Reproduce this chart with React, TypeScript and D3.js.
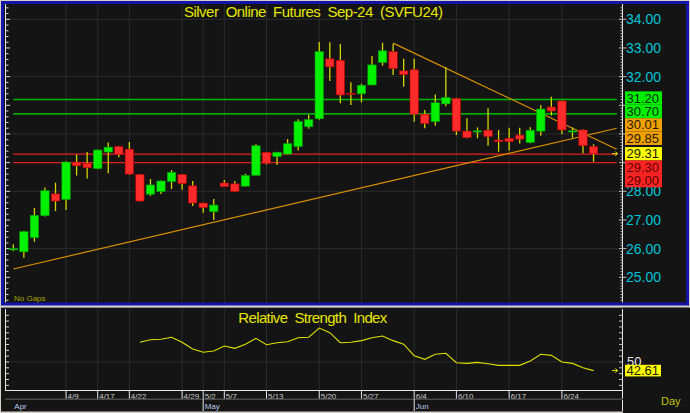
import * as d3 from 'd3';

// daily bars, index 0 = first bar in early April
const OPEN = [25.98, 25.89, 26.38, 27.15, 27.91, 27.72, 29.02, 28.98, 28.79, 29.37, 29.56, 29.47, 28.59, 27.9, 27.99, 28.34, 28.59, 28.19, 27.59, 27.29, 28.29, 28.26, 28.18, 28.56, 29.36, 29.21, 29.3, 29.56, 30.25, 30.53, 32.62, 32.57, 31.42, 31.4, 31.71, 32.49, 32.87, 32.2, 32.24, 30.69, 30.43, 31.05, 31.24, 30.1, 30.09, 30.13, 29.79, 29.84, 29.96, 29.7, 30.1, 30.94, 31.15, 30.1, 30.14, 29.56];
const HIGH = [26.15, 26.62, 27.42, 28.13, 28.3, 29.05, 29.28, 29.37, 29.46, 29.7, 29.58, 29.72, 28.6, 28.43, 28.38, 28.74, 28.6, 28.36, 27.6, 27.73, 28.39, 28.36, 28.61, 29.64, 29.37, 29.38, 29.82, 30.51, 30.67, 33.21, 33.2, 33.14, 31.8, 31.75, 32.72, 33.18, 33.14, 32.62, 32.62, 30.84, 31.38, 32.33, 31.26, 30.55, 30.23, 30.9, 30.14, 30.22, 30.22, 30.23, 31.01, 31.3, 31.17, 30.23, 30.16, 29.64];
const LOW = [25.92, 25.68, 26.24, 27.12, 27.31, 27.35, 28.55, 28.45, 28.77, 28.63, 29.19, 28.58, 27.64, 27.84, 27.91, 28.08, 28.05, 27.49, 27.25, 27.0, 28.15, 27.98, 28.16, 28.55, 28.93, 28.92, 29.28, 29.42, 30.18, 30.5, 31.85, 31.07, 31.01, 31.1, 31.7, 32.38, 32.06, 31.65, 30.43, 30.2, 30.29, 30.97, 29.96, 29.85, 29.85, 29.59, 29.38, 29.42, 29.67, 29.68, 29.94, 30.64, 29.99, 29.87, 29.33, 29.03];
const CLOSE = [26.0, 26.59, 27.16, 28.02, 27.66, 29.02, 28.89, 28.82, 29.44, 29.54, 29.29, 28.6, 27.66, 28.22, 28.36, 28.66, 28.27, 27.59, 27.43, 27.52, 28.16, 28.0, 28.55, 29.59, 28.98, 29.36, 29.66, 30.44, 30.5, 32.87, 32.34, 31.36, 31.41, 31.7, 32.41, 32.9, 32.28, 32.07, 30.69, 30.37, 31.09, 31.27, 30.1, 29.87, 30.11, 29.91, 29.73, 29.73, 29.82, 30.13, 30.87, 30.8, 30.14, 30.11, 29.59, 29.31];

const RSI_START = 12;
const RSI = [66.9, 69.1, 69.5, 71.2, 66.9, 61.1, 58.3, 59.4, 63.7, 61.7, 65.2, 70.3, 64.8, 66.5, 67.4, 70.8, 71.2, 79.1, 75.1, 66.5, 66.9, 68.3, 70.8, 72.3, 68.3, 65.2, 55.4, 52.3, 56.6, 57.5, 49.4, 48.8, 49.7, 48.5, 47.1, 47.1, 47.1, 50.9, 56.6, 55.7, 50.0, 48.8, 45.1, 42.61];

const TICK_BARS = [5, 8, 11, 16, 18, 20, 24, 29, 33, 38, 42, 47, 52];
const TICK_LABELS = ['4/9', '4/17', '4/22', '4/29', '5/2', '5/7', '5/13', '5/20', '5/27', '6/4', '6/10', '6/17', '6/24'];
const MONTH_BARS = [0, 18, 38];
const MONTH_LABELS = ['Apr', 'May', 'Jun'];

const PRICE_LABELS = [34, 33, 32, 31, 30, 29, 28, 27, 26, 25];
const GRID_PRICES = [26, 28, 30, 32, 34];

const GREEN_LEVELS = [31.2, 30.7];
const RED_LEVELS = [29.3, 29.0];
const TREND_UP = [[0, 25.29], [55, 30.01]];
const TREND_DOWN = [[36, 33.17], [55, 29.85]];
const LAST_PRICE = 29.31;
const LAST_RSI = 42.61;
const END_BAR = 57.2;

const FONT = '"Liberation Sans", Arial, sans-serif';
const BG = '#141414';
const GRID = '#2b2b2b';

const x = d3.scaleLinear().domain([0, 55]).range([13.3, 593.55]);
const y = d3.scaleLinear().domain([25, 34]).range([277.3, 19.3]);
const ry = d3.scaleLinear().domain([26, 95.4]).range([390, 309]);

function extend(pts: number[][], bar: number) {
    const [[b0, v0], [b1, v1]] = pts;
    return v0 + ((v1 - v0) * (bar - b0)) / (b1 - b0);
}

// stacked price boxes on the right axis, last price fixed, others pushed away
function layoutBoxes() {
    const h = 13.4;
    const above = [
        { v: 29.85, fill: '#f0a000', ink: '#2a1a00' },
        { v: 30.01, fill: '#f0a000', ink: '#2a1a00' },
        { v: 30.7, fill: '#00ee00', ink: '#002a00' },
        { v: 31.2, fill: '#00ee00', ink: '#002a00' },
    ];
    const below = [
        { v: 29.3, fill: '#ff2424', ink: '#5a0000' },
        { v: 29.0, fill: '#ff2424', ink: '#5a0000' },
    ];
    const c0 = y(LAST_PRICE);
    const out = [{ v: LAST_PRICE, fill: '#ffff00', ink: '#1a1a00', c: c0 }];
    let prev = c0 - 1.5;
    above.forEach((b) => {
        const c = Math.min(y(b.v), prev - h);
        out.push({ ...b, c });
        prev = c;
    });
    prev = c0;
    below.forEach((b) => {
        const c = Math.max(y(b.v), prev + h);
        out.push({ ...b, c });
        prev = c;
    });
    return { boxes: out, h };
}

export default function App() {
    const leftTicks = d3.range(242, 345, 2).map((d) => d / 10);
    const rightTicks = d3.range(242, 345, 1).map((d) => d / 10);
    const rsiTicks = d3.range(30, 95, 5);
    const { boxes, h } = layoutBoxes();
    const boxTop = d3.min(boxes, (b) => b.c - h / 2)!;
    const boxBottom = d3.max(boxes, (b) => b.c + h / 2)!;
    // axis labels that sit fully under the value boxes are not drawn
    const axisLabels = PRICE_LABELS.filter((p) => y(p) < boxTop - 2 || y(p) > boxBottom + 2);
    const rsiLine = d3
        .line<number>()
        .x((_d, i) => x(i + RSI_START))
        .y((d) => ry(d));
    const xEnd = x(END_BAR);

    return (
        <>
            <style>{'body{margin:0}'}</style>
            <svg width={690} height={413} style={{ display: 'block', fontFamily: FONT }}>
                <rect width={690} height={413} fill="#d4d0c8" />

                {/* price panel */}
                <rect x={2.5} y={2.5} width={685} height={301.5} fill={BG} stroke="#1414a8" strokeWidth={3} />
                {GRID_PRICES.map((p) => (
                    <line key={'hg' + p} x1={6} x2={622.5} y1={y(p)} y2={y(p)} stroke={GRID} />
                ))}
                {TICK_BARS.map((b) => (
                    <line key={'vg' + b} x1={x(b)} x2={x(b)} y1={4} y2={302.5} stroke={GRID} />
                ))}
                <line x1={5.5} x2={5.5} y1={4} y2={302.5} stroke="#e8e8e8" />
                {leftTicks.map((t) => {
                    const major = Math.abs(t - Math.round(t)) < 1e-6;
                    return y(t) > 4 && y(t) < 302 ? (
                        <line key={'lt' + t} x1={5.5} x2={major ? 10 : 8.5} y1={y(t)} y2={y(t)} stroke="#d8d8d8" />
                    ) : null;
                })}
                <line x1={622.5} x2={622.5} y1={4} y2={302.5} stroke="#e8e8e8" />
                {rightTicks.map((t) => {
                    const major = Math.abs(t - Math.round(t)) < 1e-6;
                    return y(t) > 4 && y(t) < 302 ? (
                        <line key={'rt' + t} x1={major ? 619 : 620.5} x2={major ? 626.5 : 622.5} y1={y(t)} y2={y(t)} stroke="#bdbdbd" />
                    ) : null;
                })}
                {axisLabels.map((p) => (
                    <text key={'pl' + p} x={626} y={y(p) + 5} fontSize={14} fill="#00c4d4">
                        {p.toFixed(2)}
                    </text>
                ))}

                {/* level lines and trend lines */}
                {GREEN_LEVELS.map((p, i) => (
                    <line key={'gl' + p} x1={x(0)} x2={xEnd} y1={y(p)} y2={y(p)} stroke={i === 0 ? '#00b800' : '#00e000'} strokeWidth={1.4} />
                ))}
                {RED_LEVELS.map((p) => (
                    <line key={'rl' + p} x1={x(0)} x2={xEnd} y1={y(p)} y2={y(p)} stroke="#e02020" strokeWidth={1.2} />
                ))}
                <line x1={x(TREND_UP[0][0])} y1={y(TREND_UP[0][1])} x2={xEnd} y2={y(extend(TREND_UP, END_BAR))} stroke="#d89000" strokeWidth={1.2} />
                <line x1={x(TREND_DOWN[0][0])} y1={y(TREND_DOWN[0][1])} x2={xEnd} y2={y(extend(TREND_DOWN, END_BAR))} stroke="#d89000" strokeWidth={1.2} />

                {/* candles */}
                {OPEN.map((o, i) => {
                    const c = CLOSE[i];
                    const up = c >= o;
                    const top = y(Math.max(o, c));
                    const hgt = Math.max(1.2, Math.abs(y(o) - y(c)));
                    return (
                        <g key={'c' + i}>
                            <line x1={x(i)} x2={x(i)} y1={y(HIGH[i])} y2={y(LOW[i])} stroke="#d4d400" strokeWidth={1.3} />
                            <rect
                                x={x(i) - 4.2}
                                y={top}
                                width={8.4}
                                height={hgt}
                                fill={up ? '#00f000' : '#ff2a2a'}
                                stroke={up ? '#00a000' : '#b80000'}
                                strokeWidth={0.6}
                            />
                        </g>
                    );
                })}

                <path d={`M612,${y(LAST_PRICE)}h5.5m-2.2,-2.2l2.2,2.2l-2.2,2.2`} stroke="#f0f000" fill="none" strokeWidth={1} />

                {/* right side value boxes */}
                {boxes.map((b) => (
                    <g key={'bx' + b.v}>
                        <rect x={625} y={b.c - h / 2} width={37} height={h} fill={b.fill} />
                        <text x={626.5} y={b.c + 4.6} fontSize={13} fill={b.ink}>
                            {b.v.toFixed(2)}
                        </text>
                    </g>
                ))}

                <text x={184} y={16.5} fontSize={15} fill="#e6e600" textLength={259} lengthAdjust="spacing" style={{ whiteSpace: 'pre' }}>
                    {'Silver  Online  Futures  Sep-24  (SVFU24)'}
                </text>
                <text x={14} y={301} fontSize={8} fill="#a4a400">
                    No Gaps
                </text>

                {/* RSI panel */}
                <rect x={1} y={307.5} width={688} height={104} fill={BG} />
                <rect x={623} y={307.5} width={67} height={105.5} fill={BG} />
                <line x1={0} x2={690} y1={306.8} y2={306.8} stroke="#cfcfcf" />
                {TICK_BARS.map((b) => (
                    <line key={'rvg' + b} x1={x(b)} x2={x(b)} y1={309} y2={390} stroke={GRID} />
                ))}
                <line x1={6} x2={622.5} y1={ry(50)} y2={ry(50)} stroke={GRID} />
                <line x1={5.5} x2={5.5} y1={309} y2={390} stroke="#e8e8e8" />
                {rsiTicks.map((t) => (
                    <line key={'rlt' + t} x1={5.5} x2={9} y1={ry(t)} y2={ry(t)} stroke="#d8d8d8" />
                ))}
                <line x1={622.5} x2={622.5} y1={309} y2={411} stroke="#e8e8e8" />
                {rsiTicks.map((t) => (
                    <line key={'rrt' + t} x1={619} x2={622.5} y1={ry(t)} y2={ry(t)} stroke="#bdbdbd" />
                ))}
                <path d={rsiLine(RSI) ?? ''} fill="none" stroke="#e0e000" strokeWidth={1.1} />
                <path d={`M612,${ry(LAST_RSI)}h5.5m-2.2,-2.2l2.2,2.2l-2.2,2.2`} stroke="#f0f000" fill="none" strokeWidth={1} />
                <text x={627} y={ry(50) + 4.5} fontSize={13} fill="#e4e4e4">
                    50
                </text>
                <rect x={625} y={ry(LAST_RSI) - 5.8} width={36} height={11.6} fill="#ffff00" />
                <text x={626.5} y={ry(LAST_RSI) + 4.8} fontSize={13} fill="#1a1a00">
                    {LAST_RSI.toFixed(2)}
                </text>
                <text x={238.3} y={323} fontSize={15} fill="#e6e600" textLength={149} lengthAdjust="spacing" style={{ whiteSpace: 'pre' }}>
                    {'Relative  Strength  Index'}
                </text>

                {/* date axis */}
                <line x1={5} x2={623} y1={390.5} y2={390.5} stroke="#e8e8e8" />
                {TICK_BARS.map((b, i) => (
                    <g key={'dt' + b}>
                        <line x1={x(b)} x2={x(b)} y1={390.5} y2={399} stroke="#e8e8e8" />
                        <text x={x(b) + 1.5} y={398.5} fontSize={8} fill="#cfcfcf">
                            {TICK_LABELS[i]}
                        </text>
                    </g>
                ))}
                <line x1={5} x2={623} y1={399.2} y2={399.2} stroke="#4a4a4a" strokeWidth={1.6} />
                {MONTH_BARS.map((b, i) => (
                    <g key={'m' + b}>
                        {i > 0 && <line x1={x(b)} x2={x(b)} y1={399} y2={411} stroke="#e8e8e8" />}
                        <text x={i === 0 ? 14.3 : x(b) + 1.5} y={408.5} fontSize={8} fill="#b8c8e8">
                            {MONTH_LABELS[i]}
                        </text>
                    </g>
                ))}
                <text x={661} y={405} fontSize={11} fill="#c4c400">
                    Day
                </text>
            </svg>
        </>
    );
}
